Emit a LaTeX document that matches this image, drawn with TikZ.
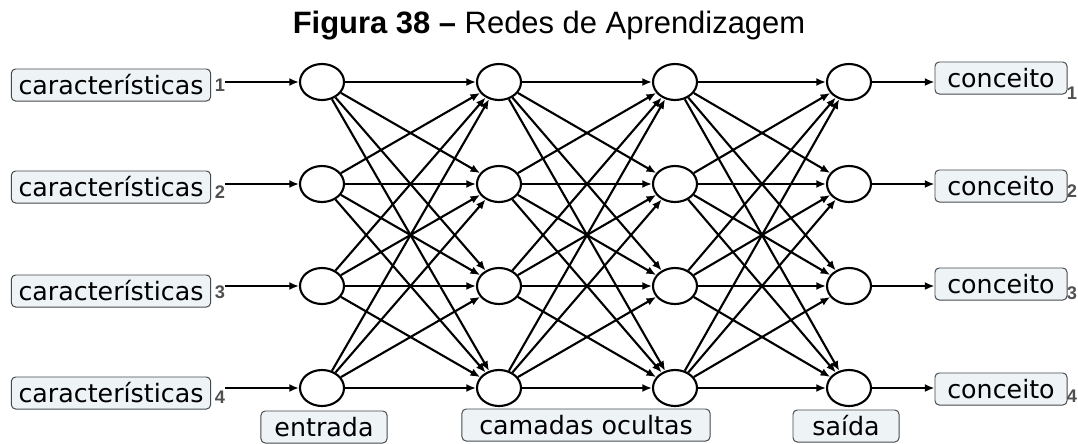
\documentclass[tikz,border=0pt]{standalone}
\usepackage{fontspec}
\setmainfont{Liberation Sans}
\newfontfamily\labelfont{DejaVu Sans}
\usepackage{xcolor}
\usepackage{tikz}
\usetikzlibrary{arrows.meta, positioning, shapes.geometric}
\definecolor{boxfill}{RGB}{238,243,246}
\definecolor{boxline}{RGB}{70,74,78}
\definecolor{numgray}{RGB}{80,80,80}
\tikzset{
  neuron/.style={draw, ellipse, line width=1.5pt, fill=white, minimum width=1.1cm, minimum height=0.9cm, inner sep=0pt},
  tag/.style={draw=boxline, rounded corners=3pt, line width=0.7pt, fill=boxfill, align=center, inner sep=0pt, minimum height=0.8cm, font=\labelfont\fontsize{18}{20}\selectfont},
  idx/.style={inner sep=0pt, font=\bfseries\fontsize{13}{14}\selectfont, text=numgray},
  arrow/.style={-{Latex[length=2.4mm, width=2mm]}, line width=1.5pt},
  title/.style={font=\fontsize{22}{26}\selectfont}
}

\begin{document}
\begin{tikzpicture}[x=0.025cm,y=-0.025cm]
    \useasboundingbox (0,0) rectangle (1078,443);
    \node[title] (ttl) at (549,26) {\textbf{Figura 38 --} Redes de Aprendizagem};
    % camadas
    \foreach \r/\y in {1/82, 2/184, 3/286, 4/388} {
        \node[neuron] (in\r) at (322,\y) {};
        \node[neuron] (hida\r) at (499,\y) {};
        \node[neuron] (hidb\r) at (675,\y) {};
        \node[neuron] (out\r) at (849,\y) {};
    }
    % entradas e saidas
    \foreach \r/\yf/\yn/\yc/\ym in {1/85/85/78/93, 2/187/192/186/191, 3/291/292/284/293, 4/393/397/389/396} {
        \node[tag, minimum width=4.98cm] (feat\r) at (111,\yf) {características};
        \node[idx] (fnum\r) at (220,\yn) {\r};
        \node[tag, minimum width=3.3cm] (conc\r) at (1001,\yc) {conceito};
        \node[idx] (cnum\r) at (1072,\ym) {\r};
        \draw[arrow] (in\r -| fnum\r.east) -- (in\r);
        \draw[arrow] (out\r) -- (out\r -| conc\r.west);
    }
    % ligacoes
    \foreach \i in {1,...,4} {
        \foreach \j in {1,...,4} {
            \draw[arrow] (in\i) -- (hida\j);
            \draw[arrow] (hida\i) -- (hidb\j);
            \draw[arrow] (hidb\i) -- (out\j);
        }
    }
    \node[tag, minimum width=3.15cm] (lblin) at (324,427) {entrada};
    \node[tag, minimum width=6.2cm] (lblhid) at (586,425) {camadas ocultas};
    \node[tag, minimum width=2.65cm] (lblout) at (846,426) {saída};
\end{tikzpicture}
\end{document}
